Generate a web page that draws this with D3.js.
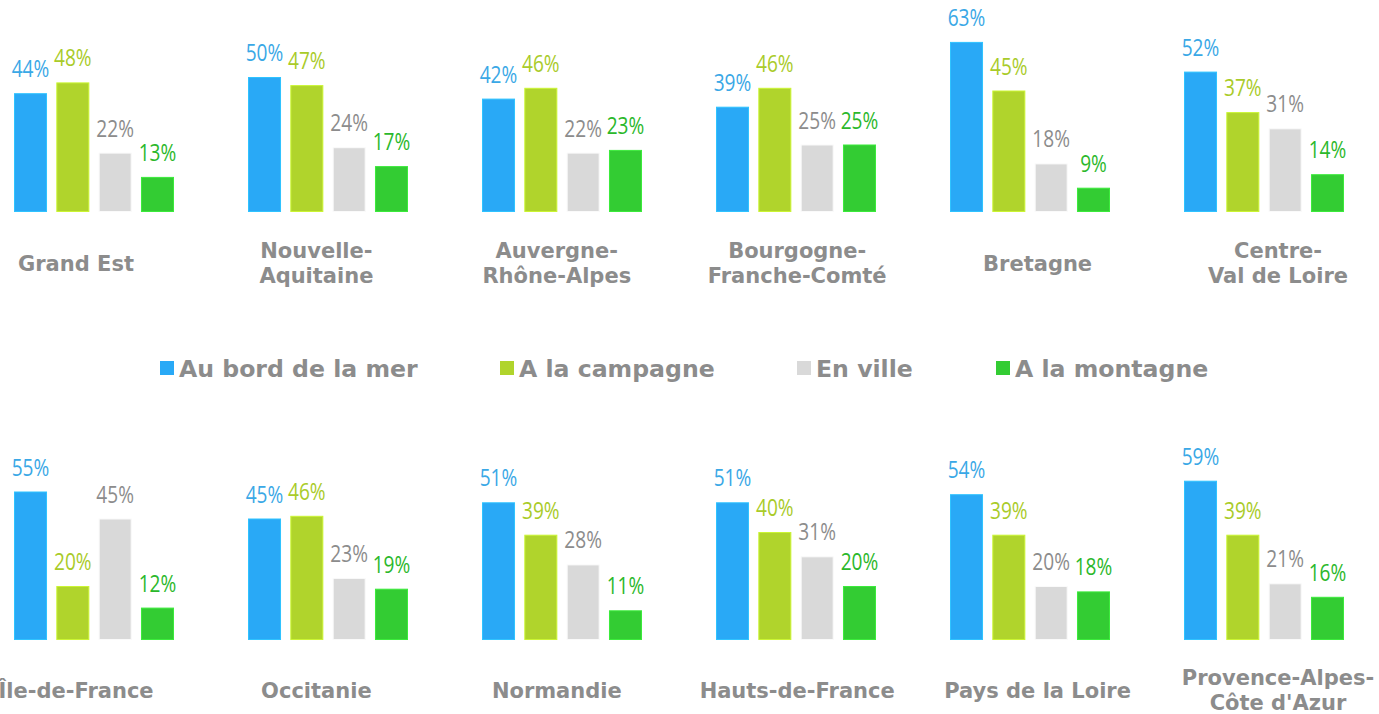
<!DOCTYPE html>
<html>
<head>
<meta charset="utf-8">
<script src="https://cdn.jsdelivr.net/npm/d3@7"></script>
<style>
  html, body { margin: 0; padding: 0; background: #fff; }
  svg { display: block; }
  .pct { font-family: "Open Sans", "Noto Sans", sans-serif; font-size: 23px; }
  .cat { font-family: "DejaVu Sans", Verdana, sans-serif; font-weight: bold; font-size: 21px; fill: #8c8c8c; }
  .leg { font-family: "DejaVu Sans", Verdana, sans-serif; font-weight: bold; font-size: 23.6px; fill: #8c8c8c; }
</style>
</head>
<body>
<div id="chart"></div>
<script>
// regions, split onto lines as in the original
var regions = [
  ["Grand Est"], ["Nouvelle-", "Aquitaine"], ["Auvergne-", "Rhône-Alpes"],
  ["Bourgogne-", "Franche-Comté"], ["Bretagne"], ["Centre-", "Val de Loire"],
  ["Île-de-France"], ["Occitanie"], ["Normandie"],
  ["Hauts-de-France"], ["Pays de la Loire"], ["Provence-Alpes-", "Côte d'Azur"]
];

var seriesNames = ["Au bord de la mer", "A la campagne", "En ville", "A la montagne"];

// values in %
var mer       = [44, 50, 42, 39, 63, 52, 55, 45, 51, 51, 54, 59];
var campagne  = [48, 47, 46, 46, 45, 37, 20, 46, 39, 40, 39, 39];
var ville     = [22, 24, 22, 25, 18, 31, 45, 23, 28, 31, 20, 21];
var montagne  = [13, 17, 23, 25,  9, 14, 12, 19, 11, 20, 18, 16];

var barColors   = ["#29a9f6", "#b0d42c", "#d9d9d9", "#33cc33"];
var labelColors = ["#3aa8e6", "#a9cb29", "#8c8c8c", "#2bb82b"];

var W = 1379, H = 714;
var svg = d3.select("#chart").append("svg")
    .attr("width", W)
    .attr("height", H);

var values = [mer, campagne, ville, montagne];

var x = d3.scaleBand()
    .domain(seriesNames)
    .range([0, 160])
    .paddingInner(0.22)
    .paddingOuter(0);

var h = d3.scaleLinear().domain([0, 100]).range([0, 270]);

var color = d3.scaleOrdinal().domain(seriesNames).range(barColors);
var lcolor = d3.scaleOrdinal().domain(seriesNames).range(labelColors);

var baselines = [212, 640];

regions.forEach(function(lines, i) {
  var row = Math.floor(i / 6), col = i % 6;
  var g = svg.append("g")
      .attr("transform", "translate(" + (14 + col * 234) + "," + baselines[row] + ")");

  var d = seriesNames.map(function(s, k) { return {key: s, value: values[k][i]}; });

  g.selectAll("rect")
    .data(d).enter().append("rect")
      .attr("x", function(v) { return x(v.key) + 0.5; })
      .attr("y", function(v) { return -h(v.value) + 0.5; })
      .attr("width", x.bandwidth() - 1)
      .attr("height", function(v) { return h(v.value) - 1; })
      .attr("fill", function(v) { return color(v.key); })
      .attr("stroke", function(v) { return d3.color(color(v.key)).brighter(0.4); })
      .attr("stroke-width", 1);

  g.selectAll("text.pct")
    .data(d).enter().append("text")
      .attr("class", "pct")
      .attr("transform", function(v) {
        return "translate(" + (x(v.key) + x.bandwidth() / 2) + "," + (-h(v.value) - 16) + ") scale(0.83,1)";
      })
      .attr("text-anchor", "middle")
      .attr("fill", function(v) { return lcolor(v.key); })
      .text(function(v) { return v.value + "%"; });

  // region name under the bars
  var cx = 76 + col * 240.4;
  var ys = lines.length == 1 ? [271 + row * 427] : [258 + row * 427, 283 + row * 427];
  lines.forEach(function(t, j) {
    svg.append("text")
      .attr("class", "cat")
      .attr("x", cx)
      .attr("y", ys[j])
      .attr("text-anchor", "middle")
      .text(t);
  });
});

// legend
var legX = [160, 500, 797, 996];
var leg = svg.selectAll("g.legend")
    .data(seriesNames).enter().append("g")
    .attr("class", "legend")
    .attr("transform", function(s, k) { return "translate(" + legX[k] + ",361)"; });

leg.append("rect")
    .attr("width", 14)
    .attr("height", 14)
    .attr("fill", function(s) { return color(s); });

leg.append("text")
    .attr("class", "leg")
    .attr("x", 19)
    .attr("y", 16)
    .text(function(s) { return s; });
</script>
</body>
</html>
